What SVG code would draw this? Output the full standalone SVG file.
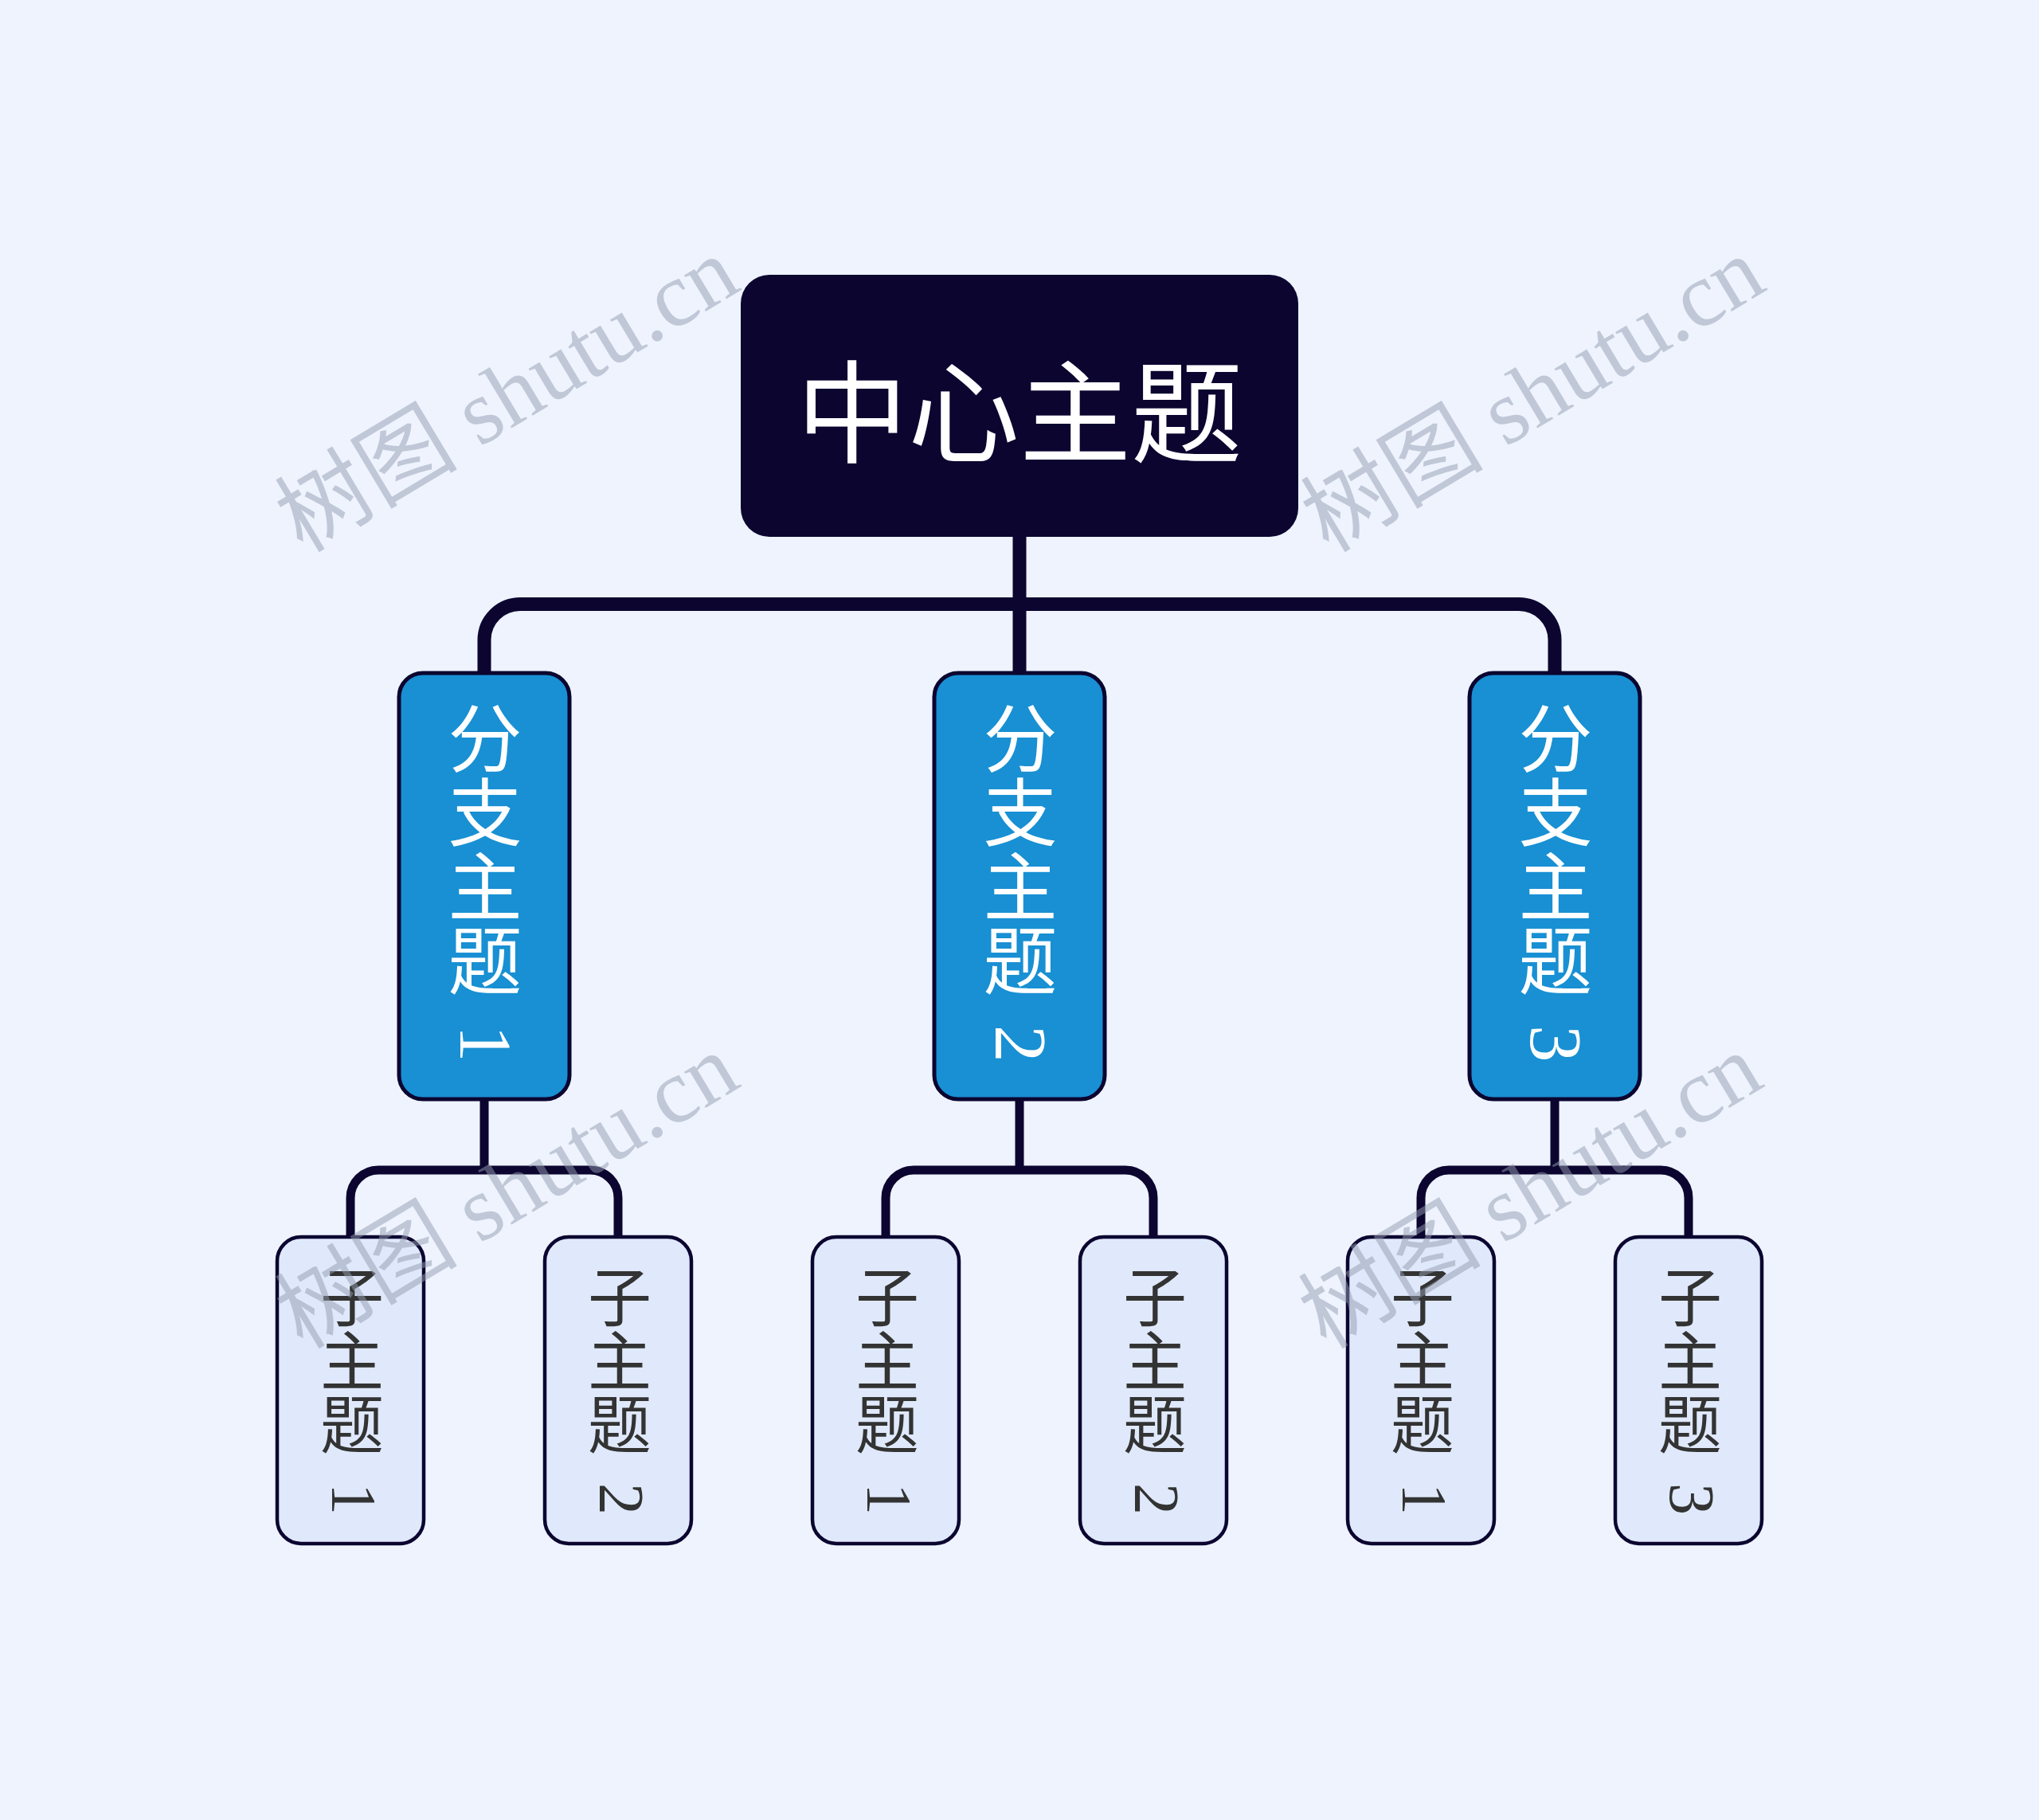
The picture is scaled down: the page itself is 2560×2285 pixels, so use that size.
<svg xmlns="http://www.w3.org/2000/svg" width="2560" height="2285" viewBox="0 0 2560 2285">
<style>
.bg{fill:#eef3fe}
.conn{fill:none;stroke:#0b0530;stroke-linecap:butt;stroke-linejoin:round}
.main{stroke-width:17}
.sub{stroke-width:11}
.center{fill:#0b0530}
.branch{fill:#1890d3;stroke:#0b0530;stroke-width:5}
.leaf{fill:#dfe9fb;stroke:#0b0530;stroke-width:4.5}
.ctext{font-family:"Noto Sans CJK SC",sans-serif;font-size:140px;fill:#ffffff}
.vt{font-family:"Liberation Serif","Noto Sans CJK SC",serif;writing-mode:vertical-rl}
.btext{font-size:93px;fill:#ffffff}
.ltext{font-size:80px;fill:#333333}
.wm{font-family:"Liberation Serif","Noto Sans CJK SC",serif;font-size:115px;fill:#949db0;opacity:0.5}
</style>
<rect class="bg" x="0" y="0" width="2560" height="2285"/>
<g id="connectors">
<path class="conn main" d="M1280 674 V845"/>
<path class="conn main" d="M608 845 V803 A45 45 0 0 1 653 758.5 H1907 A45 45 0 0 1 1952 803 V845"/>
<path class="conn sub" d="M608 1380 V1469"/>
<path class="conn sub" d="M440 1553 V1504 A35 35 0 0 1 475 1469 H741 A35 35 0 0 1 776 1504 V1553"/>
<path class="conn sub" d="M1280 1380 V1469"/>
<path class="conn sub" d="M1112 1553 V1504 A35 35 0 0 1 1147 1469 H1413 A35 35 0 0 1 1448 1504 V1553"/>
<path class="conn sub" d="M1952 1380 V1469"/>
<path class="conn sub" d="M1784 1553 V1504 A35 35 0 0 1 1819 1469 H2085 A35 35 0 0 1 2120 1504 V1553"/>
</g>
<g id="center">
<rect class="center" x="930" y="345" width="700" height="329" rx="36"/>
<text class="ctext" x="1280" y="509" text-anchor="middle" dominant-baseline="central">中心主题</text>
</g>
<g id="branch1">
<rect class="branch" x="501" y="845" width="214" height="535" rx="30"/>
<text class="vt btext" x="600" y="880">分支主题 <tspan dx="9" dy="12">1</tspan></text>
</g>
<g id="branch2">
<rect class="branch" x="1173" y="845" width="214" height="535" rx="30"/>
<text class="vt btext" x="1272" y="880">分支主题 <tspan dx="9" dy="12">2</tspan></text>
</g>
<g id="branch3">
<rect class="branch" x="1845" y="845" width="214" height="535" rx="30"/>
<text class="vt btext" x="1944" y="880">分支主题 <tspan dx="9" dy="12">3</tspan></text>
</g>
<g id="leaf1-1">
<rect class="leaf" x="348" y="1553" width="184" height="385" rx="30"/>
<text class="vt ltext" x="434" y="1588">子主题 <tspan dx="10" dy="14">1</tspan></text>
</g>
<g id="leaf1-2">
<rect class="leaf" x="684" y="1553" width="184" height="385" rx="30"/>
<text class="vt ltext" x="770" y="1588">子主题 <tspan dx="10" dy="14">2</tspan></text>
</g>
<g id="leaf2-1">
<rect class="leaf" x="1020" y="1553" width="184" height="385" rx="30"/>
<text class="vt ltext" x="1106" y="1588">子主题 <tspan dx="10" dy="14">1</tspan></text>
</g>
<g id="leaf2-2">
<rect class="leaf" x="1356" y="1553" width="184" height="385" rx="30"/>
<text class="vt ltext" x="1442" y="1588">子主题 <tspan dx="10" dy="14">2</tspan></text>
</g>
<g id="leaf3-1">
<rect class="leaf" x="1692" y="1553" width="184" height="385" rx="30"/>
<text class="vt ltext" x="1778" y="1588">子主题 <tspan dx="10" dy="14">1</tspan></text>
</g>
<g id="leaf3-2">
<rect class="leaf" x="2028" y="1553" width="184" height="385" rx="30"/>
<text class="vt ltext" x="2114" y="1588">子主题 <tspan dx="10" dy="14">3</tspan></text>
</g>
<g id="watermarks">
<text class="wm" transform="translate(380 695) rotate(-31)">树图 shutu.cn</text>
<text class="wm" transform="translate(1668 695) rotate(-31)">树图 shutu.cn</text>
<text class="wm" transform="translate(380 1695) rotate(-31)">树图 shutu.cn</text>
<text class="wm" transform="translate(1665 1695) rotate(-31)">树图 shutu.cn</text>
</g>
</svg>
